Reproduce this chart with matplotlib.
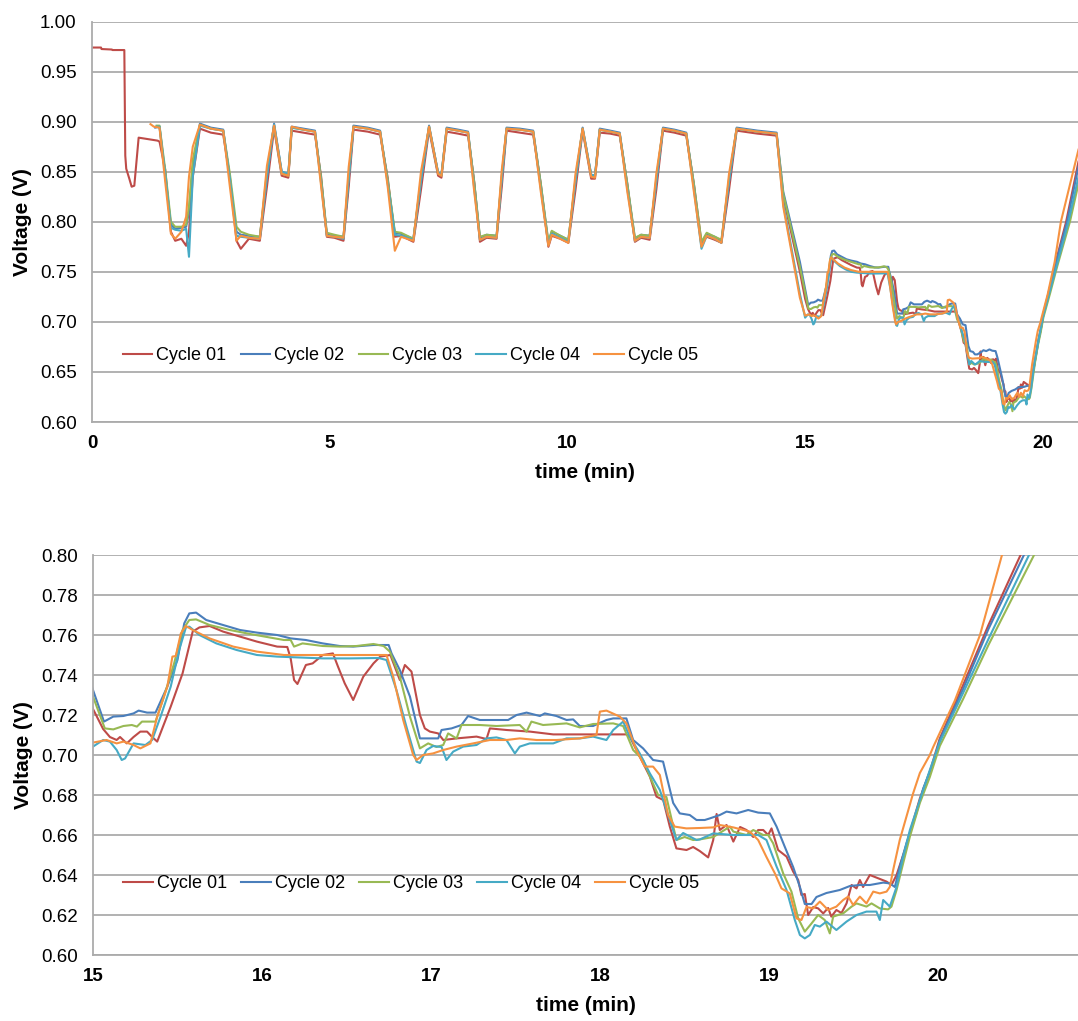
import matplotlib
matplotlib.use("Agg")
import matplotlib.pyplot as plt
import numpy as np

plt.rcParams['font.family'] = ['Liberation Sans', 'DejaVu Sans']

# Series names and colours (Excel 2007 palette as drawn).
labels = ["Cycle 01", "Cycle 02", "Cycle 03", "Cycle 04", "Cycle 05"]
colors = ["#BE4B48", "#4A7EBB", "#98B954", "#46AAC5", "#F69240"]

# Start of each run (time min, voltage V); cycle 01 also holds the rest period.
start_01 = [(0.00, 0.974), (0.19, 0.974), (0.20, 0.9725), (0.42, 0.972), (0.43, 0.9715),
            (0.68, 0.9715), (0.70, 0.866), (0.72, 0.853), (0.785, 0.843), (0.834, 0.835),
            (0.89, 0.836), (0.981, 0.884), (1.381, 0.881)]
start_02 = [(1.33, 0.894)]
start_03 = [(1.36, 0.896)]
start_04 = [(1.35, 0.895)]
start_05 = [(1.23, 0.8975), (1.30, 0.895)]

# Pulsed load part, read on a shared time base.
t_pulse = [
    1.42, 1.54, 1.66, 1.75, 1.88, 1.98, 2.04, 2.12, 2.27,
    2.50, 2.76, 2.90, 3.04, 3.13, 3.30, 3.53, 3.68, 3.83,
    3.99, 4.13, 4.20, 4.45, 4.69, 4.82, 4.94, 5.10, 5.29,
    5.40, 5.50, 5.80, 6.06, 6.22, 6.37, 6.50, 6.76, 6.92,
    7.09, 7.28, 7.35, 7.46, 7.70, 7.91, 8.04, 8.16, 8.30,
    8.51, 8.62, 8.72, 9.00, 9.28, 9.44, 9.60, 9.67, 9.85,
    10.02, 10.17, 10.32, 10.50, 10.58, 10.68, 10.90, 11.10, 11.26,
    11.42, 11.55, 11.73, 11.87, 12.01, 12.25, 12.50, 12.66, 12.82,
    12.93, 13.10, 13.24, 13.40, 13.56, 14.00, 14.40, 14.54, 14.89,
]
v_pulse_01 = [
    0.880, 0.852, 0.790, 0.781, 0.783, 0.776, 0.790, 0.845, 0.893,
    0.889, 0.887, 0.845, 0.781, 0.773, 0.783, 0.781, 0.835, 0.893,
    0.846, 0.844, 0.891, 0.889, 0.887, 0.845, 0.785, 0.784, 0.781,
    0.835, 0.892, 0.890, 0.887, 0.844, 0.785, 0.786, 0.780, 0.832,
    0.892, 0.846, 0.844, 0.890, 0.888, 0.886, 0.840, 0.780, 0.784,
    0.783, 0.835, 0.891, 0.889, 0.887, 0.838, 0.775, 0.786, 0.783,
    0.779, 0.832, 0.891, 0.843, 0.843, 0.889, 0.888, 0.886, 0.838,
    0.780, 0.784, 0.782, 0.832, 0.891, 0.889, 0.886, 0.838, 0.779,
    0.785, 0.782, 0.779, 0.832, 0.891, 0.888, 0.886, 0.825, 0.750,
]
v_pulse_02 = [
    0.895, 0.846, 0.797, 0.793, 0.794, 0.795, 0.810, 0.855, 0.898,
    0.894, 0.892, 0.842, 0.790, 0.787, 0.786, 0.785, 0.845, 0.898,
    0.850, 0.847, 0.895, 0.893, 0.891, 0.841, 0.787, 0.786, 0.785,
    0.842, 0.896, 0.894, 0.891, 0.840, 0.789, 0.788, 0.783, 0.840,
    0.896, 0.849, 0.847, 0.894, 0.892, 0.890, 0.838, 0.784, 0.787,
    0.786, 0.842, 0.894, 0.893, 0.891, 0.836, 0.779, 0.790, 0.786,
    0.782, 0.840, 0.894, 0.847, 0.846, 0.893, 0.891, 0.889, 0.836,
    0.783, 0.787, 0.786, 0.840, 0.894, 0.892, 0.889, 0.836, 0.776,
    0.788, 0.785, 0.781, 0.840, 0.894, 0.891, 0.889, 0.830, 0.760,
]
v_pulse_03 = [
    0.896, 0.852, 0.800, 0.795, 0.795, 0.797, 0.815, 0.862, 0.897,
    0.893, 0.891, 0.848, 0.795, 0.790, 0.787, 0.785, 0.850, 0.896,
    0.848, 0.846, 0.894, 0.892, 0.890, 0.843, 0.789, 0.787, 0.785,
    0.846, 0.895, 0.893, 0.890, 0.842, 0.790, 0.789, 0.783, 0.843,
    0.895, 0.848, 0.846, 0.893, 0.891, 0.889, 0.839, 0.785, 0.787,
    0.786, 0.846, 0.893, 0.892, 0.890, 0.838, 0.780, 0.791, 0.786,
    0.782, 0.843, 0.893, 0.846, 0.845, 0.892, 0.890, 0.888, 0.838,
    0.784, 0.787, 0.786, 0.843, 0.893, 0.891, 0.888, 0.838, 0.780,
    0.789, 0.785, 0.782, 0.843, 0.893, 0.890, 0.888, 0.828, 0.755,
]
v_pulse_04 = [
    0.895, 0.848, 0.794, 0.792, 0.791, 0.793, 0.765, 0.845, 0.896,
    0.893, 0.891, 0.843, 0.786, 0.785, 0.784, 0.783, 0.845, 0.897,
    0.850, 0.848, 0.894, 0.892, 0.890, 0.838, 0.786, 0.785, 0.783,
    0.845, 0.895, 0.893, 0.890, 0.838, 0.787, 0.786, 0.782, 0.841,
    0.895, 0.849, 0.847, 0.893, 0.891, 0.889, 0.833, 0.782, 0.785,
    0.784, 0.845, 0.893, 0.892, 0.890, 0.833, 0.777, 0.788, 0.784,
    0.780, 0.841, 0.893, 0.847, 0.846, 0.892, 0.890, 0.888, 0.833,
    0.781, 0.785, 0.784, 0.841, 0.893, 0.891, 0.888, 0.833, 0.773,
    0.786, 0.783, 0.779, 0.841, 0.893, 0.890, 0.888, 0.818, 0.728,
]
v_pulse_05 = [
    0.894, 0.840, 0.788, 0.783, 0.790, 0.805, 0.845, 0.875, 0.897,
    0.893, 0.891, 0.835, 0.781, 0.786, 0.784, 0.783, 0.856, 0.896,
    0.848, 0.846, 0.895, 0.892, 0.890, 0.835, 0.786, 0.785, 0.784,
    0.855, 0.895, 0.893, 0.890, 0.835, 0.771, 0.785, 0.781, 0.850,
    0.895, 0.848, 0.846, 0.893, 0.891, 0.889, 0.830, 0.782, 0.785,
    0.784, 0.852, 0.893, 0.892, 0.890, 0.830, 0.776, 0.787, 0.783,
    0.779, 0.848, 0.893, 0.845, 0.844, 0.892, 0.890, 0.888, 0.830,
    0.781, 0.785, 0.784, 0.848, 0.893, 0.891, 0.888, 0.830, 0.775,
    0.786, 0.783, 0.779, 0.848, 0.893, 0.890, 0.888, 0.815, 0.724,
]

# Last part of each run (time min, voltage V).
tail_01 = [
    (15.00, 0.723), (15.06, 0.713), (15.10, 0.709), (15.14, 0.7075), (15.16, 0.709),
    (15.20, 0.7058), (15.24, 0.709), (15.28, 0.7117), (15.32, 0.7117), (15.35, 0.709),
    (15.38, 0.7067), (15.46, 0.7242), (15.53, 0.7408), (15.59, 0.7617), (15.63, 0.7638),
    (15.69, 0.7645), (15.77, 0.7617), (15.87, 0.7592), (15.97, 0.7567), (16.09, 0.7542),
    (16.15, 0.754), (16.17, 0.7483), (16.19, 0.7375), (16.21, 0.7355), (16.26, 0.745),
    (16.30, 0.7458), (16.36, 0.750), (16.42, 0.7508), (16.45, 0.7442), (16.49, 0.7358),
    (16.54, 0.7275), (16.60, 0.7392), (16.66, 0.7458), (16.70, 0.7492), (16.76, 0.750),
    (16.816, 0.7375), (16.846, 0.745), (16.885, 0.7417), (16.935, 0.720), (16.964, 0.7133),
    (16.994, 0.7117), (17.043, 0.7108), (17.073, 0.7075), (17.152, 0.7083), (17.27, 0.7092),
    (17.329, 0.708), (17.349, 0.7133), (17.448, 0.7125), (17.586, 0.7117), (17.724, 0.7103),
    (18.157, 0.7103), (18.177, 0.7092), (18.236, 0.6992), (18.296, 0.6892), (18.335, 0.6792),
    (18.375, 0.6775), (18.414, 0.6642), (18.453, 0.6533), (18.513, 0.6525), (18.552, 0.654),
    (18.591, 0.652), (18.641, 0.6488), (18.671, 0.6575), (18.691, 0.6705), (18.71, 0.6625),
    (18.75, 0.665), (18.79, 0.6567), (18.83, 0.664), (18.868, 0.6625), (18.908, 0.659),
    (18.937, 0.6625), (18.967, 0.6625), (18.996, 0.660), (19.016, 0.6633), (19.055, 0.6525),
    (19.105, 0.6492), (19.144, 0.6417), (19.174, 0.6375), (19.193, 0.630), (19.213, 0.6305),
    (19.233, 0.620), (19.263, 0.624), (19.292, 0.6233), (19.322, 0.6208), (19.351, 0.6235),
    (19.37, 0.6192), (19.40, 0.6225), (19.43, 0.621), (19.46, 0.6258), (19.49, 0.635),
    (19.519, 0.6333), (19.539, 0.6375), (19.558, 0.634), (19.598, 0.640), (19.697, 0.6367),
    (19.726, 0.635), (19.756, 0.640), (19.815, 0.655), (19.854, 0.6667), (19.894, 0.6783),
    (19.953, 0.6917), (20.012, 0.7083), (20.15, 0.735), (20.30, 0.765), (20.49, 0.800),
    (20.75, 0.860),
]
tail_02 = [
    (15.00, 0.7325), (15.065, 0.7167), (15.12, 0.7192), (15.18, 0.7195), (15.24, 0.7208),
    (15.27, 0.7222), (15.32, 0.7212), (15.37, 0.7212), (15.44, 0.7342), (15.50, 0.7475),
    (15.54, 0.7658), (15.57, 0.7708), (15.61, 0.7712), (15.67, 0.7675), (15.77, 0.765),
    (15.87, 0.7625), (15.97, 0.7612), (16.09, 0.760), (16.17, 0.7583), (16.26, 0.7575),
    (16.36, 0.7558), (16.46, 0.7545), (16.54, 0.7542), (16.66, 0.755), (16.75, 0.755),
    (16.767, 0.7508), (16.816, 0.7425), (16.876, 0.7292), (16.935, 0.7083), (16.994, 0.7083),
    (17.043, 0.7083), (17.063, 0.7125), (17.122, 0.7133), (17.181, 0.715), (17.22, 0.7195),
    (17.29, 0.7175), (17.388, 0.7175), (17.457, 0.7175), (17.507, 0.720), (17.566, 0.7212),
    (17.645, 0.7195), (17.674, 0.7208), (17.743, 0.7195), (17.803, 0.7175), (17.842, 0.7178),
    (17.881, 0.7145), (17.96, 0.7145), (18.039, 0.7175), (18.079, 0.7183), (18.157, 0.7183),
    (18.197, 0.7075), (18.256, 0.7033), (18.315, 0.6975), (18.374, 0.6967), (18.434, 0.676),
    (18.473, 0.6708), (18.532, 0.670), (18.572, 0.6675), (18.621, 0.6675), (18.651, 0.6683),
    (18.71, 0.670), (18.75, 0.6717), (18.809, 0.6708), (18.878, 0.6725), (18.937, 0.6712),
    (19.006, 0.6708), (19.046, 0.6642), (19.095, 0.654), (19.144, 0.644), (19.184, 0.634),
    (19.213, 0.6255), (19.253, 0.6255), (19.282, 0.629), (19.341, 0.631), (19.42, 0.6325),
    (19.48, 0.6345), (19.539, 0.635), (19.598, 0.635), (19.677, 0.6362), (19.716, 0.6358),
    (19.746, 0.634), (19.775, 0.644), (19.815, 0.656), (19.874, 0.671), (19.914, 0.6833),
    (19.973, 0.6958), (20.012, 0.7075), (20.15, 0.733), (20.30, 0.763), (20.51, 0.800),
    (20.75, 0.855),
]
tail_03 = [
    (15.00, 0.7292), (15.07, 0.7133), (15.12, 0.7128), (15.18, 0.7145), (15.23, 0.715),
    (15.26, 0.7142), (15.29, 0.7167), (15.37, 0.7167), (15.42, 0.7292), (15.48, 0.7458),
    (15.53, 0.7625), (15.57, 0.7675), (15.61, 0.7678), (15.69, 0.765), (15.81, 0.7625),
    (15.93, 0.7605), (16.13, 0.7575), (16.17, 0.7575), (16.19, 0.7542), (16.24, 0.7558),
    (16.36, 0.7545), (16.46, 0.7542), (16.56, 0.7545), (16.66, 0.7555), (16.72, 0.7545),
    (16.757, 0.7517), (16.816, 0.7392), (16.876, 0.7192), (16.935, 0.7033), (16.984, 0.7058),
    (17.033, 0.704), (17.073, 0.705), (17.102, 0.7108), (17.152, 0.7083), (17.181, 0.715),
    (17.29, 0.715), (17.388, 0.7145), (17.526, 0.715), (17.566, 0.7117), (17.595, 0.7167),
    (17.664, 0.715), (17.803, 0.7158), (17.881, 0.7138), (17.96, 0.7155), (18.079, 0.7158),
    (18.138, 0.7145), (18.197, 0.7025), (18.256, 0.6975), (18.305, 0.6875), (18.345, 0.680),
    (18.394, 0.679), (18.453, 0.6575), (18.502, 0.659), (18.552, 0.6575), (18.592, 0.6578),
    (18.671, 0.659), (18.77, 0.6642), (18.79, 0.6617), (18.868, 0.660), (18.908, 0.6625),
    (18.967, 0.660), (18.996, 0.660), (19.026, 0.6558), (19.085, 0.6408), (19.134, 0.6317),
    (19.174, 0.6183), (19.213, 0.6117), (19.253, 0.6158), (19.292, 0.620), (19.331, 0.6175),
    (19.361, 0.6108), (19.381, 0.6192), (19.44, 0.6208), (19.49, 0.6242), (19.519, 0.6258),
    (19.578, 0.6242), (19.608, 0.6258), (19.657, 0.6233), (19.706, 0.6228), (19.726, 0.6242),
    (19.756, 0.6325), (19.795, 0.6458), (19.835, 0.6592), (19.894, 0.676), (19.953, 0.689),
    (20.012, 0.7045), (20.15, 0.728), (20.30, 0.755), (20.57, 0.800), (20.75, 0.838),
]
tail_04 = [
    (15.00, 0.7042), (15.06, 0.7075), (15.10, 0.7067), (15.14, 0.7025), (15.17, 0.6975),
    (15.19, 0.6983), (15.24, 0.7058), (15.31, 0.705), (15.35, 0.7075), (15.40, 0.7192),
    (15.46, 0.7342), (15.51, 0.7525), (15.55, 0.7638), (15.57, 0.7642), (15.63, 0.760),
    (15.73, 0.7558), (15.85, 0.7525), (15.97, 0.750), (16.09, 0.7492), (16.36, 0.7483),
    (16.52, 0.7483), (16.69, 0.7485), (16.737, 0.7475), (16.796, 0.7325), (16.855, 0.7142),
    (16.915, 0.6967), (16.935, 0.696), (16.974, 0.7025), (17.013, 0.7045), (17.063, 0.704),
    (17.092, 0.6975), (17.132, 0.7017), (17.191, 0.7042), (17.27, 0.705), (17.329, 0.7083),
    (17.388, 0.7088), (17.447, 0.7075), (17.497, 0.7008), (17.526, 0.7042), (17.585, 0.7058),
    (17.724, 0.7058), (17.803, 0.7083), (17.881, 0.7083), (17.96, 0.7092), (18.039, 0.7075),
    (18.079, 0.7125), (18.138, 0.7167), (18.177, 0.7092), (18.236, 0.7008), (18.296, 0.6908),
    (18.355, 0.6825), (18.414, 0.6675), (18.453, 0.6575), (18.493, 0.661), (18.572, 0.6575),
    (18.592, 0.6578), (18.671, 0.6608), (18.79, 0.660), (18.868, 0.660), (18.937, 0.660),
    (18.986, 0.6575), (19.046, 0.6442), (19.105, 0.6325), (19.154, 0.6175), (19.184, 0.610),
    (19.213, 0.6083), (19.243, 0.610), (19.272, 0.615), (19.302, 0.6142), (19.341, 0.6167),
    (19.40, 0.6125), (19.46, 0.6167), (19.519, 0.620), (19.578, 0.6217), (19.637, 0.6217),
    (19.657, 0.6175), (19.677, 0.6275), (19.716, 0.6242), (19.756, 0.634), (19.795, 0.649),
    (19.835, 0.6625), (19.894, 0.6775), (19.953, 0.6925), (20.012, 0.7065), (20.15, 0.731),
    (20.30, 0.758), (20.54, 0.800), (20.75, 0.845),
]
tail_05 = [
    (15.00, 0.7062), (15.08, 0.7075), (15.14, 0.7058), (15.18, 0.7067), (15.24, 0.705),
    (15.28, 0.7033), (15.34, 0.7058), (15.38, 0.7192), (15.44, 0.7342), (15.47, 0.7492),
    (15.49, 0.7495), (15.52, 0.7608), (15.55, 0.7645), (15.59, 0.7625), (15.69, 0.7583),
    (15.83, 0.7542), (15.97, 0.7517), (16.13, 0.750), (16.28, 0.750), (16.52, 0.750),
    (16.737, 0.750), (16.777, 0.7392), (16.836, 0.7175), (16.895, 0.700), (16.915, 0.6975),
    (16.954, 0.700), (17.013, 0.7008), (17.073, 0.7025), (17.152, 0.7042), (17.25, 0.7058),
    (17.349, 0.7075), (17.447, 0.7075), (17.526, 0.7083), (17.625, 0.7075), (17.743, 0.7075),
    (17.881, 0.7083), (17.98, 0.710), (18.00, 0.7217), (18.039, 0.7222), (18.118, 0.7192),
    (18.157, 0.7158), (18.216, 0.7025), (18.266, 0.6942), (18.315, 0.6942), (18.355, 0.690),
    (18.404, 0.670), (18.443, 0.6642), (18.512, 0.6633), (18.592, 0.6635), (18.671, 0.6638),
    (18.71, 0.665), (18.79, 0.6638), (18.888, 0.6617), (18.937, 0.6575), (18.986, 0.649),
    (19.036, 0.6408), (19.075, 0.6333), (19.124, 0.6308), (19.164, 0.6183), (19.193, 0.6175),
    (19.223, 0.624), (19.262, 0.6233), (19.302, 0.6267), (19.351, 0.6225), (19.40, 0.6242),
    (19.44, 0.6275), (19.47, 0.6292), (19.499, 0.625), (19.539, 0.6292), (19.578, 0.6258),
    (19.618, 0.6317), (19.657, 0.6308), (19.697, 0.6317), (19.716, 0.634), (19.736, 0.6425),
    (19.775, 0.6575), (19.815, 0.6692), (19.854, 0.6808), (19.894, 0.691), (19.953, 0.700),
    (19.973, 0.704), (20.10, 0.727), (20.25, 0.760), (20.38, 0.800), (20.75, 0.872),
]

starts = [start_01, start_02, start_03, start_04, start_05]
pulses = [v_pulse_01, v_pulse_02, v_pulse_03, v_pulse_04, v_pulse_05]
tails = [tail_01, tail_02, tail_03, tail_04, tail_05]


def build_series(start, pulse, tail):
    assert len(pulse) == len(t_pulse)
    t = [p[0] for p in start] + t_pulse + [p[0] for p in tail]
    v = [p[1] for p in start] + pulse + [p[1] for p in tail]
    return np.array(t), np.array(v)


series = [build_series(s, p, tl) for s, p, tl in zip(starts, pulses, tails)]

W, H = 1078, 1021
fig = plt.figure(figsize=(W / 100, H / 100), dpi=100)
fig.patch.set_facecolor("white")

grid_color = "#ABABAB"


def style_axes(ax, xlim, ylim, xticks, yticks, legend_pos):
    for (t, v), name, col in zip(series, labels, colors):
        ax.plot(t, v, color=col, lw=1.5, label=name, solid_joinstyle="round")
    ax.set_xlim(*xlim)
    ax.set_ylim(*ylim)
    ax.set_xticks(xticks)
    ax.set_yticks(yticks)
    ax.yaxis.set_major_formatter(matplotlib.ticker.FormatStrFormatter("%.2f"))
    ax.grid(axis="y", color=grid_color, lw=1.3)
    ax.set_axisbelow(True)
    for side in ("top", "right"):
        ax.spines[side].set_visible(False)
    for side in ("left", "bottom"):
        ax.spines[side].set_color(grid_color)
        ax.spines[side].set_linewidth(1.3)
    ax.tick_params(axis="both", length=0)
    ax.tick_params(axis="y", labelsize=13.5, pad=11)
    ax.tick_params(axis="x", labelsize=13.5, pad=9)
    for lab in ax.get_xticklabels():
        lab.set_fontweight("bold")
    ax.set_xlabel("time (min)", fontsize=15, fontweight="bold", labelpad=8)
    ax.set_ylabel("Voltage (V)", fontsize=15, fontweight="bold")
    ax.yaxis.set_label_coords(-0.061, 0.5)
    ax.legend(loc="center left", bbox_to_anchor=legend_pos, ncol=5, frameon=False,
              fontsize=13, handlelength=1.65, handletextpad=0.22, columnspacing=0.78,
              borderpad=0, borderaxespad=0)


ax_top = fig.add_axes([92 / W, 1 - 422 / H, (W - 92) / W, 400.5 / H])
style_axes(ax_top, (0, 20.74), (0.60, 1.00), [0, 5, 10, 15, 20],
           np.arange(0.60, 1.001, 0.05), (0.031, 0.1655))

ax_bot = fig.add_axes([93 / W, 1 - 955 / H, (W - 93) / W, 400 / H])
style_axes(ax_bot, (15, 20.83), (0.60, 0.80), [15, 16, 17, 18, 19, 20],
           np.arange(0.60, 0.8001, 0.02), (0.0305, 0.1775))

fig.savefig("out.png", dpi=100, facecolor="white")
